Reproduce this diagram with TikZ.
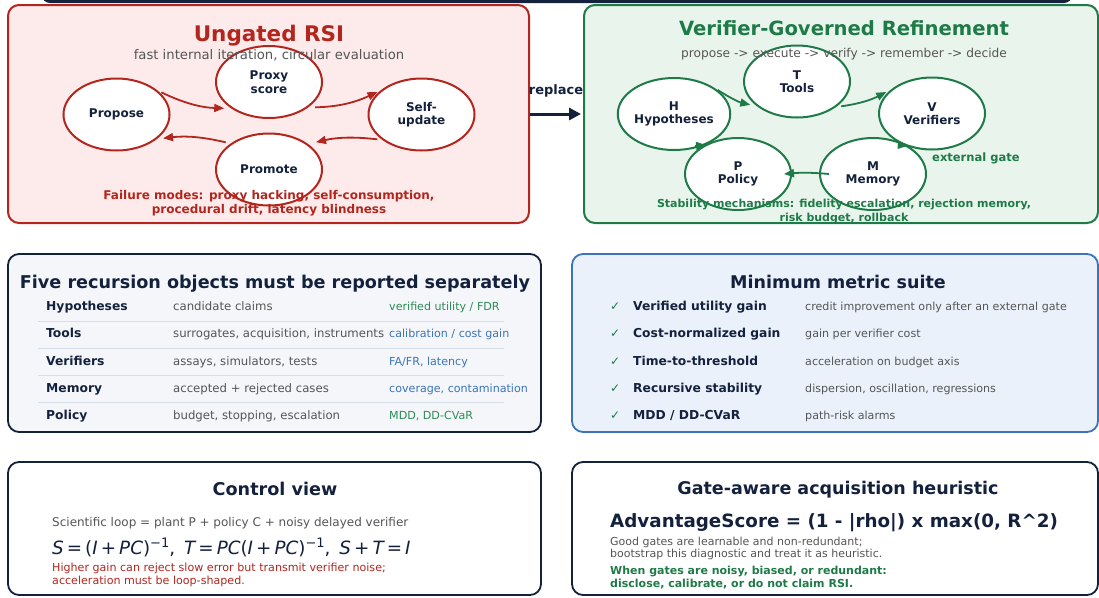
\documentclass[tikz,border=0pt]{standalone}
\usepackage{fontspec}
\setmainfont{DejaVu Sans}
\usetikzlibrary{shapes.geometric,arrows.meta}

\definecolor{navy}{HTML}{14213D}
\definecolor{rsired}{HTML}{B3261E}
\definecolor{rsipink}{HTML}{FCEBEA}
\definecolor{vgreen}{HTML}{1E7B47}
\definecolor{vfill}{HTML}{E9F5EC}
\definecolor{txtgray}{HTML}{555555}
\definecolor{mblue}{HTML}{3B74B8}
\definecolor{mfill}{HTML}{EAF1FB}
\definecolor{ofill}{HTML}{F4F6FA}
\definecolor{sepline}{HTML}{D5DDE8}
\definecolor{lgreen}{HTML}{2E8B57}

\newcommand\setfs[2]{\fontsize{#1}{#2}\selectfont}
\newcommand\sv[1]{{\itshape #1}}
\newcommand\supinv{\raisebox{7.5pt}{\setfs{13}{14}−1}}

\begin{document}
\begin{tikzpicture}[x=1pt,y=-1pt,
  panel/.style={rectangle, rounded corners=11pt, line width=2pt, inner sep=0pt},
  loopnode/.style={ellipse, draw, fill=white, line width=2pt, minimum width=106pt,
    minimum height=72pt, inner sep=0pt, align=center, text=navy,
    font=\setfs{12}{13.5}\bfseries},
  rarrow/.style={draw=rsired, line width=1.8pt, -{Triangle[length=10pt,width=8pt]}},
  garrow/.style={draw=vgreen, line width=1.8pt, -{Triangle[length=10pt,width=8pt]}},
  lbl/.style={inner sep=0pt, anchor=base},
  lblw/.style={inner sep=0pt, anchor=base west},
]
\useasboundingbox (0,0) rectangle (1099,597);

% header band running off the top edge
\fill[navy, rounded corners=8pt] (42,-20) rectangle (1072,3);

% panels
\node[panel, draw=rsired, fill=rsipink, minimum width=521pt, minimum height=218pt] (ungated) at (268.5,114) {};
\node[panel, draw=vgreen, fill=vfill, minimum width=514pt, minimum height=218pt] (governed) at (841,114) {};
\node[panel, draw=navy, fill=ofill, line width=1.8pt, minimum width=533pt, minimum height=178pt] (objects) at (274.5,343) {};
\node[panel, draw=mblue, fill=mfill, line width=1.8pt, minimum width=526pt, minimum height=178pt] (metrics) at (835,343) {};
\node[panel, draw=navy, fill=white, line width=1.8pt, minimum width=533pt, minimum height=133pt] (control) at (274.5,528.5) {};
\node[panel, draw=navy, fill=white, line width=1.8pt, minimum width=526pt, minimum height=133pt] (heuristic) at (835,528.5) {};

% ---- ungated loop ----
\node[loopnode, draw=rsired] (propose) at (116.5,114.5) {Propose};
\node[loopnode, draw=rsired] (proxy) at (269,82) {Proxy\\score};
\node[loopnode, draw=rsired] (selfupd) at (421.5,114.5) {Self-\\update};
\node[loopnode, draw=rsired] (promote) at (269,169.5) {Promote};

\draw[rarrow, shorten <=4pt, shorten >=7pt] (propose.30) to[bend right=12] (proxy.215);
\draw[rarrow, shorten <=7pt, shorten >=3pt] (proxy.-33) to[bend right=12] (selfupd.150);
\draw[rarrow, shorten <=5pt, shorten >=8pt] (selfupd.213) to[bend right=10] (promote.33);
\draw[rarrow, shorten <=5pt, shorten >=6pt] (promote.146) to[bend right=10] (propose.-31);

\node[lbl, text=rsired, font=\setfs{21.5}{24}\bfseries] (ungatedtitle) at (269,41) {Ungated RSI};
\node[lbl, text=txtgray, font=\setfs{13.2}{15}] (ungatedsub) at (269,59.5) {fast internal iteration, circular evaluation};
\node[lbl, text=rsired, font=\setfs{12}{14}\bfseries] (fail1) at (269,199.5) {Failure modes: proxy hacking, self-consumption,};
\node[lbl, text=rsired, font=\setfs{12}{14}\bfseries] (fail2) at (269,213.5) {procedural drift, latency blindness};

% ---- replacement arrow ----
\node[lbl, text=navy, font=\setfs{13}{15}\bfseries] (replace) at (556,94.5) {replace};
\draw[navy, line width=3pt, -{Triangle[length=12pt,width=12pt]}, shorten >=2pt] (ungated.east) -- (governed.west);

% ---- verifier-governed loop ----
\node[loopnode, draw=vgreen] (hyp) at (674,114) {H\\Hypotheses};
\node[loopnode, draw=vgreen] (tools) at (797,81.5) {T\\Tools};
\node[loopnode, draw=vgreen] (ver) at (932,113.5) {V\\Verifiers};
\node[loopnode, draw=vgreen] (pol) at (738,174) {P\\Policy};
\node[loopnode, draw=vgreen] (mem) at (873,174) {M\\Memory};

\draw[garrow, shorten <=2pt, shorten >=7pt] (hyp.31) to[bend right=10] (tools.212);
\draw[garrow, shorten <=5pt, shorten >=5pt] (tools.-33) to[bend right=10] (ver.150);
\draw[garrow] ([xshift=10pt]mem.west) to[bend right=5] ([xshift=-8pt]pol.east);
\draw[garrow] ([xshift=-10pt,yshift=-1pt]hyp.-45) -- ([xshift=1pt]hyp.-45);
\draw[garrow] ([xshift=-10pt,yshift=1pt]mem.39) -- (mem.39);

\node[lbl, text=vgreen, font=\setfs{19.6}{22}\bfseries] (govtitle) at (844,35) {Verifier-Governed Refinement};
\node[lbl, text=txtgray, font=\setfs{12.2}{14}] (govsub) at (844,57.5) {propose -> execute -> verify -> remember -> decide};
\node[lblw, text=vgreen, font=\setfs{11.5}{13}\bfseries] (extgate) at (932,161) {external gate};
\node[lbl, text=vgreen, font=\setfs{11}{13}\bfseries] (stab1) at (844,207.5) {Stability mechanisms: fidelity escalation, rejection memory,};
\node[lbl, text=vgreen, font=\setfs{11}{13}\bfseries] (stab2) at (844,221) {risk budget, rollback};

% ---- recursion objects table ----
\node[lbl, text=navy, font=\setfs{17.6}{20}\bfseries] (objtitle) at (275,288) {Five recursion objects must be reported separately};
\foreach \yy in {321,348,375,402} \draw[sepline, line width=1pt] (38,\yy) -- (504,\yy);
\begin{scope}[every node/.style={lblw}]
\node[text=navy, font=\setfs{12.3}{14}\bfseries] (oh) at (46,310.5) {Hypotheses};
\node[text=txtgray, font=\setfs{11.7}{14}] (oh2) at (173,310.5) {candidate claims};
\node[text=lgreen, font=\setfs{11.1}{13}] (oh3) at (389,310.5) {verified utility / FDR};
\node[text=navy, font=\setfs{12.3}{14}\bfseries] (ot) at (46,337.75) {Tools};
\node[text=txtgray, font=\setfs{11.7}{14}] (ot2) at (173,337.75) {surrogates, acquisition, instruments};
\node[text=mblue, font=\setfs{11.1}{13}] (ot3) at (389,337.75) {calibration / cost gain};
\node[text=navy, font=\setfs{12.3}{14}\bfseries] (ov) at (46,365) {Verifiers};
\node[text=txtgray, font=\setfs{11.7}{14}] (ov2) at (173,365) {assays, simulators, tests};
\node[text=mblue, font=\setfs{11.1}{13}] (ov3) at (389,365) {FA/FR, latency};
\node[text=navy, font=\setfs{12.3}{14}\bfseries] (om) at (46,392.25) {Memory};
\node[text=txtgray, font=\setfs{11.7}{14}] (om2) at (173,392.25) {accepted + rejected cases};
\node[text=mblue, font=\setfs{11.1}{13}] (om3) at (389,392.25) {coverage, contamination};
\node[text=navy, font=\setfs{12.3}{14}\bfseries] (op) at (46,419.5) {Policy};
\node[text=txtgray, font=\setfs{11.7}{14}] (op2) at (173,419.5) {budget, stopping, escalation};
\node[text=lgreen, font=\setfs{11.1}{13}] (op3) at (389,419.5) {MDD, DD-CVaR};
\end{scope}

% ---- metric suite ----
\node[lbl, text=navy, font=\setfs{17.5}{20}\bfseries] (mettitle) at (838,288) {Minimum metric suite};
\begin{scope}[every node/.style={lblw}]
\node[text=vgreen, font=\setfs{12}{14}] (c1) at (610,310.5) {✓};
\node[text=navy, font=\setfs{12.3}{14}\bfseries] (m1) at (633,310.5) {Verified utility gain};
\node[text=txtgray, font=\setfs{11.1}{13}] (d1) at (805,310.5) {credit improvement only after an external gate};
\node[text=vgreen, font=\setfs{12}{14}] (c2) at (610,337.75) {✓};
\node[text=navy, font=\setfs{12.3}{14}\bfseries] (m2) at (633,337.75) {Cost-normalized gain};
\node[text=txtgray, font=\setfs{11.1}{13}] (d2) at (805,337.75) {gain per verifier cost};
\node[text=vgreen, font=\setfs{12}{14}] (c3) at (610,365) {✓};
\node[text=navy, font=\setfs{12.3}{14}\bfseries] (m3) at (633,365) {Time-to-threshold};
\node[text=txtgray, font=\setfs{11.1}{13}] (d3) at (805,365) {acceleration on budget axis};
\node[text=vgreen, font=\setfs{12}{14}] (c4) at (610,392.25) {✓};
\node[text=navy, font=\setfs{12.3}{14}\bfseries] (m4) at (633,392.25) {Recursive stability};
\node[text=txtgray, font=\setfs{11.1}{13}] (d4) at (805,392.25) {dispersion, oscillation, regressions};
\node[text=vgreen, font=\setfs{12}{14}] (c5) at (610,419.5) {✓};
\node[text=navy, font=\setfs{12.3}{14}\bfseries] (m5) at (633,419.5) {MDD / DD-CVaR};
\node[text=txtgray, font=\setfs{11.1}{13}] (d5) at (805,419.5) {path-risk alarms};
\end{scope}

% ---- control view ----
\node[lbl, text=navy, font=\setfs{17.6}{20}\bfseries] (ctltitle) at (275,495) {Control view};
\begin{scope}[every node/.style={lblw}]
\node[text=txtgray, font=\setfs{12}{14}] (ctlloop) at (52,526) {Scientific loop = plant P + policy C + noisy delayed verifier};
\node[text=navy, font=\setfs{18.3}{20}] (ctlformula) at (52,554.5)
  {\sv{S}\,=\,(\sv{I}\,+\,\sv{PC})\supinv,\hspace{9pt}\sv{T}\,=\,\sv{PC}(\sv{I}\,+\,\sv{PC})\supinv,\hspace{9pt}\sv{S}\,+\,\sv{T}\,=\,\sv{I}};
\node[text=rsired, font=\setfs{11.1}{13}] (ctlnote1) at (52,571) {Higher gain can reject slow error but transmit verifier noise;};
\node[text=rsired, font=\setfs{11.1}{13}] (ctlnote2) at (52,584) {acceleration must be loop-shaped.};
\end{scope}

% ---- acquisition heuristic ----
\node[lbl, text=navy, font=\setfs{17.5}{20}\bfseries] (heutitle) at (838,494.5) {Gate-aware acquisition heuristic};
\begin{scope}[every node/.style={lblw}]
\node[text=navy, font=\setfs{18.3}{21}\bfseries] (advscore) at (610,527) {AdvantageScore = (1 - |rho|) x max(0, R\textasciicircum 2)};
\node[text=txtgray, font=\setfs{11}{13}] (heu1) at (610,545) {Good gates are learnable and non-redundant;};
\node[text=txtgray, font=\setfs{11}{13}] (heu2) at (610,557) {bootstrap this diagnostic and treat it as heuristic.};
\node[text=vgreen, font=\setfs{11}{13}\bfseries] (heu3) at (610,574) {When gates are noisy, biased, or redundant:};
\node[text=vgreen, font=\setfs{11}{13}\bfseries] (heu4) at (610,587) {disclose, calibrate, or do not claim RSI.};
\end{scope}
\end{tikzpicture}
\end{document}
